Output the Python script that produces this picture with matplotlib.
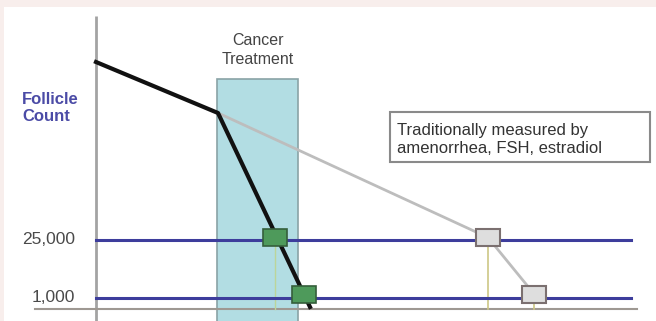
import matplotlib.pyplot as plt
from matplotlib.patches import Rectangle

plt.rcParams['font.family'] = ['Liberation Sans', 'DejaVu Sans']

# schematic units: time along x, follicle level along y
threshold_labels = ['25,000', '1,000']
threshold_levels = [6.9, 1.15]

actual_time = [0, 12.2, 21.4]
actual_level = [24.7, 19.6, 0.2]

traditional_time = [12.2, 39.2, 43.85]
traditional_level = [19.6, 7.15, 1.45]

treatment_start, treatment_end = 12.1, 20.2
treatment_top = 23.0

actual_marks_time = [17.9, 20.75]
traditional_marks_time = [39.2, 43.75]
marks_level = [7.15, 1.45]

fig = plt.figure(figsize=(6.56, 3.21), dpi=100)
fig.patch.set_facecolor('white')
# pale strips along the top and left edges
fig.patches.append(Rectangle((0, 1 - 7 / 321), 1, 7 / 321, transform=fig.transFigure,
                             facecolor='#f8eeec', edgecolor='none'))
fig.patches.append(Rectangle((0, 0), 4 / 656, 1, transform=fig.transFigure,
                             facecolor='#f8eeec', edgecolor='none'))

ax = fig.add_axes([0, 0, 1, 1])
ax.set_xlim(-9.6, 56)
ax.set_ylim(-1.2, 30.9)
ax.axis('off')
ax.patch.set_alpha(0)

# treatment window
ax.add_patch(Rectangle((treatment_start, -1.5), treatment_end - treatment_start,
                       treatment_top + 1.5, facecolor='#b2dde3', edgecolor='#8aa3a6',
                       lw=1.2, zorder=1))
ax.text((treatment_start + treatment_end) / 2, 25.9, 'Cancer\nTreatment', ha='center',
        va='center', fontsize=11.5, color='#444444', linespacing=1.35)

# axes lines
ax.plot([0, 0], [-1.5, 29.3], color='#a3a3a3', lw=2, zorder=2, solid_capstyle='butt')
ax.plot([-6.1, 54.1], [0, 0], color='#9e9892', lw=1.5, zorder=2)

for lvl, lab in zip(threshold_levels, threshold_labels):
    ax.plot([0, 53.5], [lvl, lvl], color='#3d3d9c', lw=2.2, zorder=3)
    ax.text(-2.1, lvl, lab, ha='right', va='center', fontsize=12.5, color='#4a4a4a')

ax.text(-7.4, 20.1, 'Follicle\nCount', ha='left', va='center', fontsize=12,
        fontweight='bold', color='#4b4ba6', linespacing=1.2)

# drop lines from the markers to the baseline
ax.plot([actual_marks_time[0]] * 2, [0, marks_level[0]], color='#bcd59a', lw=1, zorder=2)
for t, lvl in zip(traditional_marks_time, marks_level):
    ax.plot([t, t], [0, lvl], color='#cdc785', lw=1.2, zorder=2)

ax.plot(traditional_time, traditional_level, color='#bdbdbd', lw=2, zorder=4)
ax.plot(actual_time, actual_level, color='#111111', lw=3, zorder=5,
        solid_joinstyle='round')

w, h = 2.4, 1.7
for t, lvl in zip(actual_marks_time, marks_level):
    ax.add_patch(Rectangle((t - w / 2, lvl - h / 2), w, h, facecolor='#4e9a5b',
                           edgecolor='#355f3b', lw=1.2, zorder=6))
for t, lvl in zip(traditional_marks_time, marks_level):
    ax.add_patch(Rectangle((t - w / 2, lvl - h / 2), w, h, facecolor='#dedede',
                           edgecolor='#7b7070', lw=1.5, zorder=6))

# annotation box
ax.add_patch(Rectangle((29.4, 14.7), 26.0, 5.0, facecolor='white', edgecolor='#8a8a8a',
                       lw=1.5, zorder=6))
ax.text(30.1, 16.95, 'Traditionally measured by\namenorrhea, FSH, estradiol', ha='left',
        va='center', fontsize=12, color='#333333', linespacing=1.32, zorder=7)

fig.savefig('out.png', dpi=100)
